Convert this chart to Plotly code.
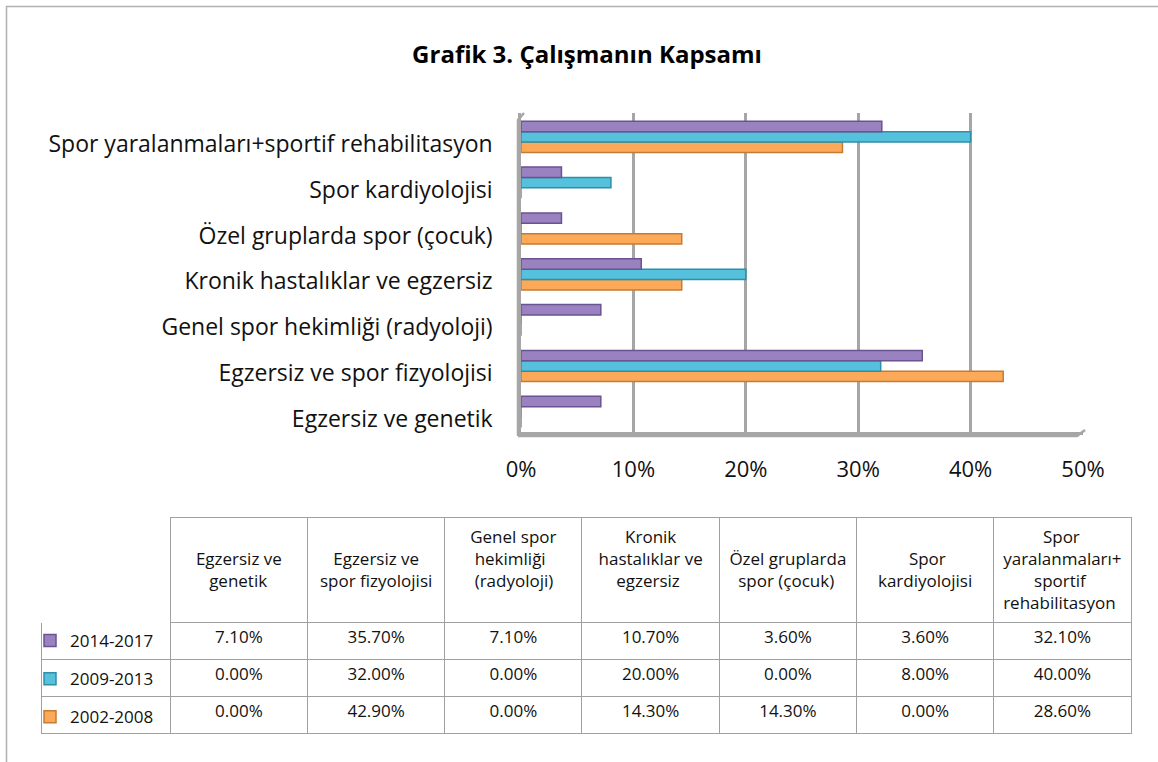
import plotly.graph_objects as go

# ---------------- data ----------------
categories = [
    "Egzersiz ve genetik",
    "Egzersiz ve spor fizyolojisi",
    "Genel spor hekimliği (radyoloji)",
    "Kronik hastalıklar ve egzersiz",
    "Özel gruplarda spor (çocuk)",
    "Spor kardiyolojisi",
    "Spor yaralanmaları+sportif rehabilitasyon",
]
# table header labels, one list of lines per column
header_lines = [
    ["Egzersiz ve", "genetik"],
    ["Egzersiz ve", "spor fizyolojisi"],
    ["Genel spor", "hekimliği", "(radyoloji)"],
    ["Kronik", "hastalıklar ve", "egzersiz"],
    ["Özel gruplarda", "spor (çocuk)"],
    ["Spor", "kardiyolojisi"],
    ["Spor", "yaralanmaları+", "sportif", "rehabilitasyon"],
]
series_names = ["2014-2017", "2009-2013", "2002-2008"]
p2014_2017 = [7.1, 35.7, 7.1, 10.7, 3.6, 3.6, 32.1]
p2009_2013 = [0.0, 32.0, 0.0, 20.0, 0.0, 8.0, 40.0]
p2002_2008 = [0.0, 42.9, 0.0, 14.3, 14.3, 0.0, 28.6]
x_ticks = [0, 10, 20, 30, 40, 50]

# ---------------- styles ----------------
FONT = "Open Sans"
W, H = 1158, 762
fill_colors = {"2014-2017": "#9a82c0", "2009-2013": "#55c1dc", "2002-2008": "#fcaa5a"}
line_colors = {"2014-2017": "#6a5391", "2009-2013": "#2f8ea8", "2002-2008": "#c47c34"}
GRID = "#a6a6a6"
TBL = "#a0a0a0"
# leading no-break spaces to centre each header line under the widest one
header_pad = [[0, 3], [3, 0], [0, 1, 1], [6, 0, 4], [0, 2], [7, 0], [9, 0, 7, 0]]

series_values = {"2014-2017": p2014_2017, "2009-2013": p2009_2013, "2002-2008": p2002_2008}

fig = go.Figure()

# bars: first trace is drawn lowest in a horizontal group
for name in ["2002-2008", "2009-2013", "2014-2017"]:
    fig.add_trace(go.Bar(
        y=categories, x=series_values[name], orientation="h", name=name,
        legendgroup=name, legendrank=series_names.index(name) + 1,
        marker=dict(color=fill_colors[name], line=dict(color=line_colors[name], width=1.5)),
        hoverinfo="x+name",
    ))

# table
def header_text(lines, pads):
    out = ["\u00a0" * p + ln for ln, p in zip(lines, pads)]
    if len(lines) == 2:
        out = ["\u00a0"] + out
    return "<br>".join(out)

header_vals = [""] + [header_text(l, p) for l, p in zip(header_lines, header_pad)]
fmt = lambda v: f"{v:.2f}%"
cell_cols = [[""] * len(series_names)] + [[fmt(series_values[n][i]) for n in series_names]
                                          for i in range(len(categories))]
fig.add_trace(go.Table(
    domain=dict(x=[41 / W, 1131 / W], y=[1 - 742 / H, 1 - 517 / H]),
    columnwidth=[129] + [137] * len(categories),
    header=dict(
        values=header_vals,
        align="center",
        height=103,
        font=dict(family=FONT, size=17, color="#111"),
        fill=dict(color="white"),
        line=dict(color=["white"] + [TBL] * len(categories), width=1),
    ),
    cells=dict(
        values=cell_cols,
        align="center",
        height=37,
        font=dict(family=FONT, size=17, color="#111"),
        fill=dict(color="white"),
        line=dict(color=TBL, width=1),
    ),
))

x0, x1 = 521 / W, 1083 / W
y0, y1 = 1 - 432 / H, 1 - 113 / H

fig.update_layout(
    width=W, height=H,
    margin=dict(l=0, r=0, t=0, b=0, autoexpand=False),
    paper_bgcolor="white", plot_bgcolor="white",
    barmode="group", bargap=0.32, bargroupgap=0.0,
    font=dict(family=FONT, color="#111"),
    title=dict(text="<b>Grafik 3. Çalışmanın Kapsamı</b>", x=587 / W, y=1 - 55 / H,
               xanchor="center", yanchor="middle", font=dict(family=FONT, size=24, color="#000")),
    showlegend=True,
    legend=dict(x=30 / W, y=1 - 623 / H, xanchor="left", yanchor="top",
                traceorder="grouped", tracegroupgap=13,
                font=dict(family=FONT, size=17, color="#111"),
                bgcolor="rgba(0,0,0,0)", borderwidth=0),
    xaxis=dict(domain=[x0, x1], range=[0, 50], tickvals=x_ticks,
               ticktext=[f"{t}%" for t in x_ticks], automargin=False,
               showgrid=True, gridcolor=GRID, gridwidth=2.5, zeroline=False,
               showline=True, linecolor=GRID, linewidth=2.5,
               ticks="outside", ticklen=16, tickcolor="rgba(0,0,0,0)",
               tickfont=dict(family=FONT, size=22, color="#111"), fixedrange=True),
    yaxis=dict(domain=[y0, y1], range=[-0.44, 6.52], automargin=False,
               showgrid=False, zeroline=False,
               showline=True, linecolor=GRID, linewidth=2.5,
               ticks="outside", ticklen=21, tickcolor="rgba(0,0,0,0)",
               ticklabelshift=7,
               tickfont=dict(family=FONT, size=23, color="#111"), fixedrange=True),
)

# 3D-ish floor edge, left wall and outer chart border (decoration)
fig.add_shape(type="path", xref="paper", yref="paper",
              path=f"M {518/W} {1-436/H} L {1077/W} {1-436/H} L {1085/W} {1-430/H}",
              line=dict(color=GRID, width=2.5))
fig.add_shape(type="path", xref="paper", yref="paper",
              path=f"M {518/W} {1-436/H} L {518/W} {1-120/H} L {524/W} {1-113/H}",
              line=dict(color=GRID, width=2.5))
fig.add_shape(type="rect", xref="paper", yref="paper",
              x0=6.5 / W, y0=-0.02, x1=1.02, y1=1 - 6.5 / H,
              line=dict(color="#b0b0b0", width=1.5))

fig.write_html("out.html", config={"displayModeBar": False},
               post_script="document.body.style.margin='0';")
